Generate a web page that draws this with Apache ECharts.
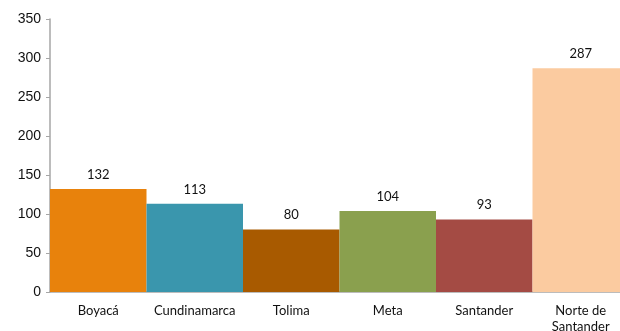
<!DOCTYPE html>
<html>
<head>
<meta charset="utf-8">
<script src="https://cdn.jsdelivr.net/npm/echarts@6/dist/echarts.min.js"></script>
<style>
  html, body { margin: 0; padding: 0; background: #fff; overflow: hidden; }
  #chart { width: 629px; height: 331px; }
</style>
</head>
<body>
<div id="chart"></div>
<script>
const departments = ['Boyacá', 'Cundinamarca', 'Tolima', 'Meta', 'Santander', 'Norte de\nSantander'];
const counts = [132, 113, 80, 104, 93, 287];
const barColors = ['#E8820C', '#3A96AD', '#A85A00', '#8AA04E', '#A44B44', '#FBCBA0'];
const yTicks = { min: 0, max: 350, interval: 50 };

// The plot runs slightly past the right edge of the visible window.
const chart = echarts.init(document.getElementById('chart'), null, { renderer: 'canvas' });
chart.setOption({
  animation: false,
  grid: { left: 50, top: 19, right: 0, height: 273, containLabel: false, outerBoundsMode: 'none' },
  xAxis: {
    type: 'category',
    data: departments,
    axisLine: { lineStyle: { color: '#A6A6A6', width: 1.5 } },
    axisTick: { show: false },
    axisLabel: { color: '#111', fontFamily: 'Lato, sans-serif', fontSize: 13, margin: 11, lineHeight: 16, interval: 0 }
  },
  yAxis: {
    type: 'value',
    min: yTicks.min, max: yTicks.max, interval: yTicks.interval,
    axisLine: { show: true, lineStyle: { color: '#A6A6A6', width: 1.5 } },
    axisTick: { show: true, length: 4, lineStyle: { color: '#A6A6A6' } },
    splitLine: { show: false },
    axisLabel: { color: '#111', fontFamily: 'Liberation Sans, Arial, sans-serif', fontSize: 14, margin: 9 }
  },
  series: [{
    type: 'bar',
    data: counts.map((v, i) => ({ value: v, itemStyle: { color: barColors[i] } })),
    barWidth: '100%',
    barCategoryGap: 0,
    label: { show: true, position: 'top', distance: 8, color: '#111', fontFamily: 'Lato, sans-serif', fontSize: 13 }
  }]
});
</script>
</body>
</html>
